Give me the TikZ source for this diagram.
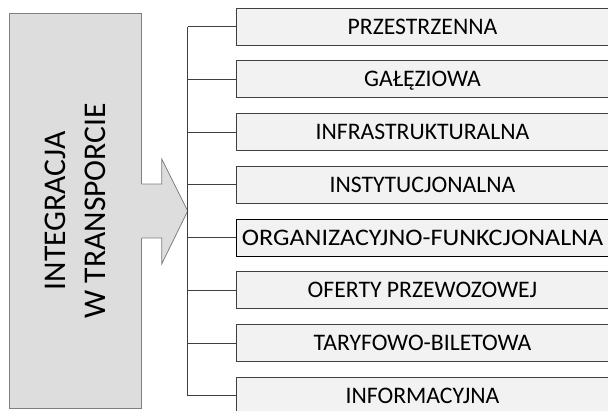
\documentclass[tikz,border=0pt]{standalone}
\usepackage{fontspec}
\setmainfont{Carlito}
\newfontfamily\widefont{Carlito}[FakeStretch=1.1]
\usepackage{tikz}
\usetikzlibrary{calc}
\usetikzlibrary{positioning}
\definecolor{boxgray}{HTML}{DDDDDD}
\definecolor{itemgray}{HTML}{F2F2F2}
\definecolor{edgegray}{HTML}{7F7F7F}
\definecolor{wiregray}{HTML}{404040}
\tikzstyle{item} = [rectangle, draw=wiregray, fill=itemgray, line width=0.8pt, minimum width=372pt, minimum height=37pt, inner sep=0pt, text height=15pt, text depth=0pt, font=\fontsize{23.7}{28}\selectfont]
\tikzstyle{wire} = [-, draw=wiregray, line width=0.8pt]

\begin{document}
\begin{tikzpicture}[x=1pt, y=-1pt]
\useasboundingbox (0,0) rectangle (608,410);
\node [rectangle, draw=edgegray, fill=boxgray, line width=0.8pt, minimum width=132pt, minimum height=394.5pt, inner sep=0pt] (main) at (75.6, 210.7) {};
\node [rotate=90, align=center, font=\fontsize{31.6}{40}\selectfont] (title) at (main.center) {INTEGRACJA\\W TRANSPORCIE};
% arrow out of the box
\coordinate (tip) at (187.7, 211);
\fill [boxgray] (140.5, 184) -- (161.7, 184) -- (161.7, 159) -- (tip) -- (161.7, 264) -- (161.7, 238) -- (140.5, 238) -- cycle;
\draw [draw=edgegray, line width=0.8pt] (141.6, 184) -- (161.7, 184) -- (161.7, 159) -- (tip) -- (161.7, 264) -- (161.7, 238) -- (141.6, 238);
% kinds of integration
\node [item] (p1) at (422.5, 26.5) {PRZESTRZENNA};
\node [item] (p2) at (422.5, 79.25) {GAŁĘZIOWA};
\node [item] (p3) at (422.5, 132) {INFRASTRUKTURALNA};
\node [item] (p4) at (422.5, 184.75) {INSTYTUCJONALNA};
\node [item, draw=black, line width=1pt, font=\widefont\fontsize{23.7}{28}\selectfont] (p5) at (422.5, 237.5) {ORGANIZACYJNO-FUNKCJONALNA};
\node [item] (p6) at (422.5, 290.25) {OFERTY PRZEWOZOWEJ};
\node [item] (p7) at (422.5, 343) {TARYFOWO-BILETOWA};
\node [item] (p8) at (422.5, 395.75) {INFORMACYJNA};
\draw [wire] (p1.west -| tip) to (p8.west -| tip);
\foreach \p in {p1, p2, p3, p4, p5, p6, p7, p8}
  \draw [wire] (\p.west -| tip) to (\p.west);
\end{tikzpicture}
\end{document}
